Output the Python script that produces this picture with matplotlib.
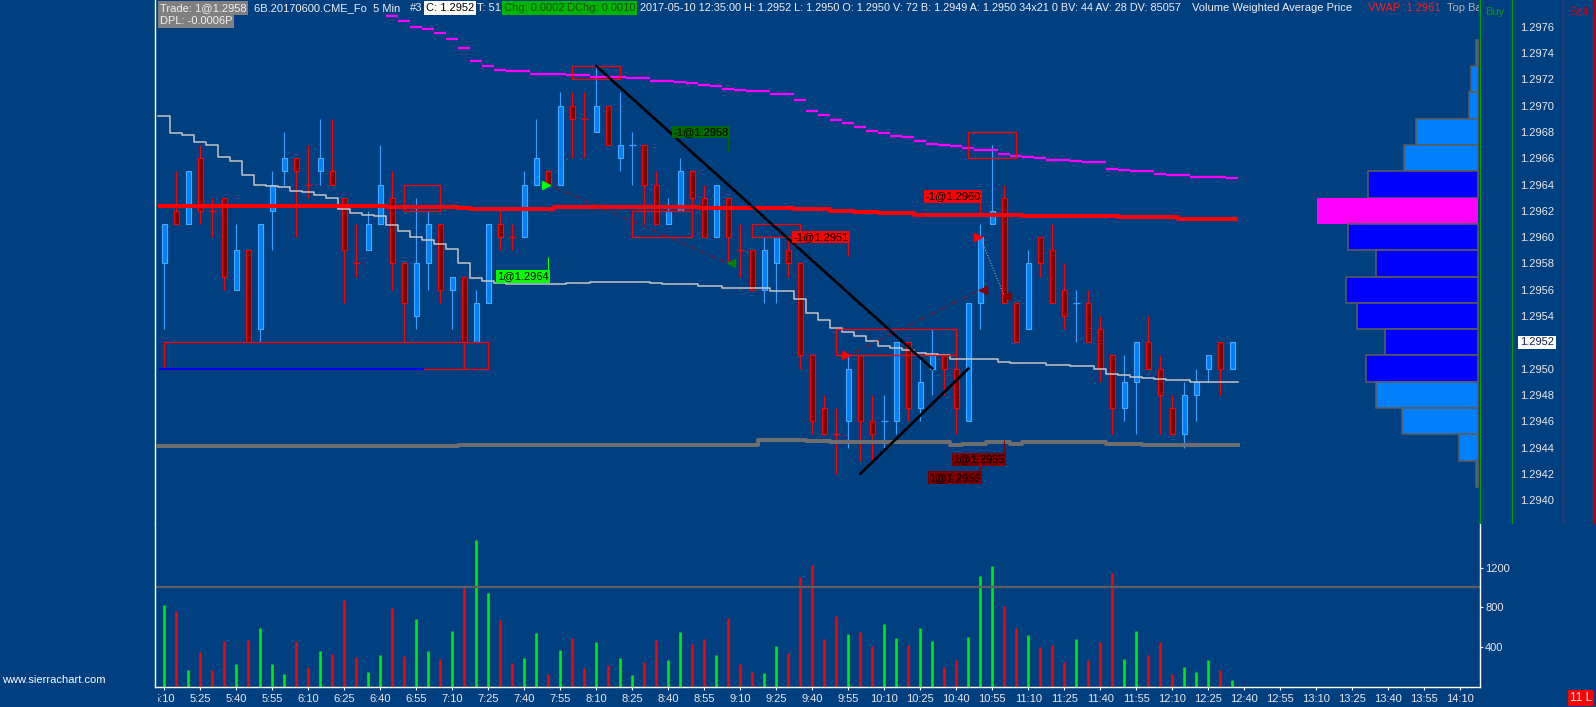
import matplotlib
matplotlib.use('Agg')
import matplotlib.pyplot as plt
from matplotlib.patches import Rectangle
from matplotlib.lines import Line2D
from matplotlib.transforms import Bbox, blended_transform_factory

plt.rcParams['font.family'] = ['Liberation Sans', 'DejaVu Sans']

W, H = 1596, 707
BG = '#014080'

# 5 min bars, 6B 2017-05-10, 5:10 .. 12:35
opens = [1.2958, 1.2962, 1.2961, 1.2966, 1.2962, 1.2963, 1.2956, 1.2959, 1.2953, 1.2962,
         1.2965, 1.2966, 1.2964, 1.2965, 1.2965, 1.2963, 1.2958, 1.2959, 1.2961, 1.2963,
         1.2958, 1.2954, 1.2958, 1.2961, 1.2956, 1.2957, 1.2952, 1.2955, 1.2961, 1.2960,
         1.2960, 1.2964, 1.2965, 1.2964, 1.2970, 1.2969, 1.2968, 1.2970, 1.2966, 1.2967,
         1.2967, 1.2964, 1.2961, 1.2962, 1.2965, 1.2963, 1.2960, 1.2963, 1.2959, 1.2959,
         1.2956, 1.2958, 1.2959, 1.2958, 1.2951, 1.2947, 1.2945, 1.2946, 1.2951, 1.2946,
         1.2946, 1.2946, 1.2952, 1.2947, 1.2950, 1.2951, 1.2950, 1.2946, 1.2955, 1.2961,
         1.2963, 1.2955, 1.2953, 1.2960, 1.2959, 1.2956, 1.2955, 1.2955, 1.2953, 1.2951,
         1.2947, 1.2949, 1.2952, 1.2950, 1.2947, 1.2945, 1.2948, 1.2950, 1.2952, 1.2950]
highs = [1.2961, 1.2965, 1.2965, 1.2967, 1.2963, 1.2963, 1.2961, 1.2959, 1.2961, 1.2965,
         1.2968, 1.2966, 1.2967, 1.2969, 1.2969, 1.2963, 1.2961, 1.2962, 1.2967, 1.2965,
         1.2958, 1.2963, 1.2962, 1.2961, 1.2957, 1.2957, 1.2956, 1.2961, 1.2962, 1.2961,
         1.2965, 1.2969, 1.2965, 1.2971, 1.2971, 1.2971, 1.2973, 1.2970, 1.2971, 1.2968,
         1.2967, 1.2965, 1.2963, 1.2966, 1.2965, 1.2964, 1.2964, 1.2963, 1.2961, 1.2959,
         1.2960, 1.2960, 1.2960, 1.2958, 1.2951, 1.2948, 1.2947, 1.2951, 1.2951, 1.2948,
         1.2948, 1.2952, 1.2952, 1.2951, 1.2953, 1.2951, 1.2953, 1.2955, 1.2961, 1.2967,
         1.2964, 1.2955, 1.2959, 1.2960, 1.2961, 1.2958, 1.2956, 1.2956, 1.2954, 1.2951,
         1.2951, 1.2952, 1.2954, 1.2951, 1.2948, 1.2949, 1.2950, 1.2951, 1.2952, 1.2952]
lows = [1.2953, 1.2961, 1.2961, 1.2961, 1.2960, 1.2956, 1.2956, 1.2952, 1.2952, 1.2959,
        1.2964, 1.2960, 1.2963, 1.2964, 1.2964, 1.2955, 1.2957, 1.2959, 1.2961, 1.2956,
        1.2952, 1.2953, 1.2956, 1.2955, 1.2953, 1.2952, 1.2952, 1.2955, 1.2959, 1.2959,
        1.2960, 1.2964, 1.2964, 1.2964, 1.2966, 1.2966, 1.2968, 1.2967, 1.2965, 1.2964,
        1.2961, 1.2961, 1.2961, 1.2962, 1.2962, 1.2960, 1.2960, 1.2958, 1.2957, 1.2956,
        1.2955, 1.2955, 1.2957, 1.2950, 1.2945, 1.2945, 1.2942, 1.2944, 1.2943, 1.2943,
        1.2944, 1.2945, 1.2946, 1.2946, 1.2948, 1.2948, 1.2945, 1.2946, 1.2953, 1.2961,
        1.2955, 1.2952, 1.2953, 1.2957, 1.2955, 1.2953, 1.2952, 1.2952, 1.2949, 1.2945,
        1.2946, 1.2945, 1.2950, 1.2945, 1.2945, 1.2944, 1.2946, 1.2949, 1.2948, 1.2950]
closes = [1.2961, 1.2961, 1.2965, 1.2962, 1.2962, 1.2957, 1.2959, 1.2952, 1.2961, 1.2964,
          1.2966, 1.2965, 1.2964, 1.2966, 1.2964, 1.2959, 1.2958, 1.2961, 1.2964, 1.2958,
          1.2955, 1.2958, 1.2961, 1.2956, 1.2957, 1.2952, 1.2955, 1.2961, 1.2960, 1.2960,
          1.2964, 1.2966, 1.2964, 1.2970, 1.2969, 1.2969, 1.2970, 1.2967, 1.2967, 1.2967,
          1.2964, 1.2961, 1.2962, 1.2965, 1.2963, 1.2960, 1.2964, 1.2960, 1.2959, 1.2956,
          1.2959, 1.2960, 1.2958, 1.2951, 1.2946, 1.2945, 1.2945, 1.2950, 1.2946, 1.2945,
          1.2946, 1.2952, 1.2947, 1.2949, 1.2951, 1.2950, 1.2947, 1.2955, 1.2960, 1.2962,
          1.2955, 1.2952, 1.2958, 1.2958, 1.2955, 1.2954, 1.2955, 1.2952, 1.2950, 1.2947,
          1.2949, 1.2952, 1.2950, 1.2948, 1.2945, 1.2948, 1.2949, 1.2951, 1.2950, 1.2952]
volumes = [827, 767, 167, 347, 167, 467, 227, 477, 597, 227,
           133, 467, 197, 357, 333, 877, 297, 147, 317, 797,
           307, 687, 357, 277, 567, 990, 1477, 947, 677, 237,
           287, 547, 127, 367, 497, 187, 457, 217, 287, 117,
           247, 477, 267, 557, 437, 487, 317, 697, 227, 147,
           137, 417, 337, 1107, 1227, 487, 717, 537, 557, 407,
           637, 497, 427, 597, 467, 197, 267, 507, 1117, 1217,
           817, 597, 527, 397, 427, 247, 487, 267, 457, 1147,
           277, 567, 317, 457, 127, 197, 147, 267, 167, 72]
# g = up bar (blue candle / green volume), r = down bar
bar_dir = ("grgrrrgrgg" "grrgrrrggr" "rggrgrggrr" "ggrgrrgrgg" "rrggrrgrrr"
           "ggrrrrrgrr" "ggrggrrggg" "rrgrrrgrrr" "ggrrrgggrg")

vwap = [1.29624] * 19 + [1.29623] * 6 + [1.29622] + [1.29621] * 7 + [1.29623] * 12 + \
       [1.29622] * 8 + [1.29621] * 3 + [1.29620] * 2 + [1.29619] * 2 + [1.29618] * 3 + \
       [1.29617] * 9 + [1.29616] * 8 + [1.29615] * 5 + [1.29614] * 5
avg_line = [1.29692, 1.29679, 1.29678, 1.29672, 1.29670, 1.29661, 1.29658, 1.29647, 1.29640, 1.29639,
            1.29638, 1.29635, 1.29634, 1.29632, 1.29630, 1.29621, 1.29618, 1.29617, 1.29616, 1.29609,
            1.29605, 1.29600, 1.29598, 1.29595, 1.29591, 1.29580, 1.29569, 1.29567, 1.29565, 1.29564,
            1.29564, 1.29564, 1.29564, 1.29564, 1.29565, 1.29565, 1.29566, 1.29566, 1.29566, 1.29566,
            1.29566, 1.29565, 1.29564, 1.29564, 1.29564, 1.29563, 1.29563, 1.29561, 1.29561, 1.29561,
            1.29561, 1.29559, 1.29559, 1.29553, 1.29542, 1.29537, 1.29531, 1.29528, 1.29525, 1.29521,
            1.29517, 1.29516, 1.29514, 1.29512, 1.29511, 1.29510, 1.29507, 1.29507, 1.29507, 1.29507,
            1.29505, 1.29504, 1.29504, 1.29504, 1.29503, 1.29503, 1.29502, 1.29502, 1.29500, 1.29496,
            1.29495, 1.29494, 1.29493, 1.29492, 1.29491, 1.29491, 1.29490, 1.29490, 1.29490, 1.29490]
low_band = [1.29441] * 25 + [1.29442] * 25 + [1.29446] * 4 + [1.29445] * 2 + \
           [1.29444] * 10 + [1.29442] + [1.29443] * 2 + [1.29444] * 2 + [1.29443] + \
           [1.29444] * 7 + [1.29443] * 3 + [1.29442] * 8
magenta_first = 19
magenta = [1.29768, 1.29764, 1.29760, 1.29758, 1.29755, 1.29751, 1.29744, 1.29734, 1.29730, 1.29727,
           1.29726, 1.29726, 1.29724, 1.29724, 1.29724, 1.29723, 1.29723, 1.29722, 1.29722, 1.29722,
           1.29721, 1.29721, 1.29719, 1.29719, 1.29718, 1.29717, 1.29716, 1.29715, 1.29713, 1.29712,
           1.29711, 1.29711, 1.29709, 1.29709, 1.29704, 1.29696, 1.29693, 1.29689, 1.29687, 1.29684,
           1.29681, 1.29679, 1.29677, 1.29676, 1.29673, 1.29671, 1.29670, 1.29669, 1.29668, 1.29666,
           1.29666, 1.29663, 1.29662, 1.29661, 1.29660, 1.29659, 1.29659, 1.29658, 1.29657, 1.29657,
           1.29652, 1.29651, 1.29650, 1.29650, 1.29648, 1.29647, 1.29647, 1.29646, 1.29646, 1.29646,
           1.29645]

time_labels = ['5:10', '5:25', '5:40', '5:55', '6:10', '6:25', '6:40', '6:55', '7:10', '7:25',
               '7:40', '7:55', '8:10', '8:25', '8:40', '8:55', '9:10', '9:25', '9:40', '9:55',
               '10:10', '10:25', '10:40', '10:55', '11:10', '11:25', '11:40', '11:55', '12:10',
               '12:25', '12:40', '12:55', '13:10', '13:25', '13:40', '13:55', '14:10']
price_ticks = [1.2940, 1.2942, 1.2944, 1.2946, 1.2948, 1.2950, 1.2952, 1.2954, 1.2956, 1.2958,
               1.2960, 1.2962, 1.2964, 1.2966, 1.2968, 1.2970, 1.2972, 1.2974, 1.2976]
vol_ticks = [400, 800, 1200]

prof_prices = [1.2974, 1.2972, 1.2970, 1.2968, 1.2966, 1.2964, 1.2962, 1.2960, 1.2958,
               1.2956, 1.2954, 1.2952, 1.2950, 1.2948, 1.2946, 1.2944, 1.2942]
prof_vol = [2, 7, 9, 62, 74, 110, 161, 130, 102, 132, 121, 93, 112, 102, 76, 19, 2]
prof_kind = "lllllbpbbbbbbllll"

# drawn boxes: (bar from, bar to, low, high)
boxes = [(0, 25, 1.2950, 1.2952), (25, 27, 1.2950, 1.2952), (20, 23, 1.2962, 1.2964),
         (34, 38, 1.2972, 1.2973), (39, 44, 1.2960, 1.2962), (49, 53, 1.2960, 1.2961),
         (56, 66, 1.2951, 1.2953), (67, 71, 1.2966, 1.2968)]
trend_lines = [((36, 1.2973), (64, 1.2950)), ((58, 1.2942), (67, 1.2950))]
# fills: (text, bar, label price, stick end price, box colour)
fill_labels = [('1@1.2964', 32, 1.29570, 1.29580, '#00ff00'),
               ('-1@1.2958', 47, 1.29680, 1.29670, '#006a00'),
               ('-1@1.2951', 57, 1.29600, 1.29590, '#ff0000'),
               ('-1@1.2960', 68, 1.29631, 1.29622, '#ff0000'),
               ('1@1.2955', 70, 1.29431, 1.29441, '#7a0000'),
               ('1@1.2956', 68, 1.29417, 1.29427, '#7a0000')]
# trades: (entry bar, entry price, exit bar, exit price, entry colour, exit colour, link colour)
trades = [(32, 1.2964, 47, 1.2958, '#00ff00', '#008000', '#d00000'),
          (57, 1.2951, 68, 1.2956, '#ff0000', '#8b0000', '#d00000'),
          (68, 1.2960, 70, 1.29555, '#ff0000', '#8b0000', '#8fa8c8')]

PX = 0.72  # points per pixel at 100 dpi
n = len(opens)

fig = plt.figure(figsize=(W / 100, H / 100), dpi=100, facecolor=BG)
L, R = 155, 1480
ax = fig.add_axes([L / W, 1 - 523 / H, (R - L) / W, 523 / H])
axv = fig.add_axes([L / W, 1 - 687 / H, (R - L) / W, (687 - 523) / H])
axp = fig.add_axes([1230 / W, 1 - 523 / H, 250 / W, 523 / H])

xlim = (-0.775, 109.64)
ylim = (1.293826, 1.297803)
for a in (ax, axv):
    a.set_facecolor(BG)
    a.set_xlim(*xlim)
ax.set_ylim(*ylim)
axv.set_ylim(0, 1648)

# candles
for i in range(n):
    o, h, l, c = opens[i], highs[i], lows[i], closes[i]
    up = bar_dir[i] == 'g'
    wick = '#3d9eff' if up else '#ff0000'
    ax.vlines(i, l, h, color=wick, lw=1.2 * PX, zorder=3)
    if abs(c - o) < 1e-9:
        ax.hlines(o, i - 0.27, i + 0.27, color=wick, lw=1.3 * PX, zorder=4)
    else:
        ax.add_patch(Rectangle((i - 0.21, min(o, c)), 0.42, abs(c - o),
                               fc='#0080ff' if up else '#800000',
                               ec='#4aa8ff' if up else '#ff0000', lw=1.1 * PX, zorder=4))

edges = [i - 0.5 for i in range(n + 1)]
ax.plot(edges, avg_line + avg_line[-1:], drawstyle='steps-post', color='#c8c8c8',
        lw=1.5 * PX, zorder=5)
ax.plot(edges, low_band + low_band[-1:], drawstyle='steps-post', color='#6e6e6e',
        lw=4 * PX, zorder=5)
ax.plot(edges, vwap + vwap[-1:], drawstyle='steps-post', color='#ff0000',
        lw=4 * PX, zorder=6, solid_capstyle='butt')
mx = list(range(magenta_first, magenta_first + len(magenta)))
ax.hlines(magenta, [x - 0.5 for x in mx], [x + 0.5 for x in mx], color='#ff00ff',
          lw=2.3 * PX, zorder=6)

for b0, b1, p0, p1 in boxes:
    ax.add_patch(Rectangle((b0, p0), b1 - b0, p1 - p0, fill=False, ec='#ff0000',
                           lw=1.3 * PX, zorder=6))
ax.hlines(1.2950, -0.42, 21.6, color='#0000ff', lw=2.2 * PX, zorder=7)

for (x0, y0), (x1, y1) in trend_lines:
    ax.plot([x0, x1], [y0, y1], color='black', lw=2.6 * PX, zorder=9)

for eb, ep, xb, xp, ec_, xc, lc in trades:
    ax.plot([eb, xb], [ep, xp], color=lc, lw=1.1 * PX, ls=(0, (1, 1.5)), zorder=8)
    ax.plot(eb - 0.2, ep, marker='>', ms=6, color=ec_, mec=ec_, zorder=9)
    ax.plot(xb + 0.2, xp, marker='<', ms=6, color=xc, mec=xc, zorder=9)

for txt, b, p, stick, col in fill_labels:
    ax.text(b + 0.03, p, txt, ha='right', va='center', fontsize=8, color='black',
            bbox=dict(boxstyle='square,pad=0.12', fc=col, ec='none'), zorder=10)
    off = 0.000045 if stick > p else -0.000045
    ax.vlines(b, p + off, stick + off, color=col, lw=1.1 * PX, zorder=10)

# volume profile
prof_col = {'l': '#0080ff', 'b': '#0000ff', 'p': '#ff00ff'}
axp.set_xlim(250, 0)
axp.set_ylim(*ylim)
axp.axis('off')
axp.patch.set_visible(False)
for p, v, k in zip(prof_prices, prof_vol, prof_kind):
    axp.barh(p, v, height=0.0002, left=1.7, color=prof_col[k],
             edgecolor='none' if k == 'p' else '#5c5c5c', lw=1.6 * PX)

# volume panel
vcols = ['#00ee00' if d == 'g' else '#ff0000' for d in bar_dir]
axv.vlines(range(n), 0, volumes, colors=vcols, lw=2.6 * PX)
axv.axhline(1000, color='#5f5f5f', lw=2.2 * PX)

# spines / ticks
for s in ('top', 'bottom'):
    ax.spines[s].set_visible(False)
ax.spines['left'].set_color('white')
ax.spines['right'].set_color('#00a000')
ax.spines['left'].set_linewidth(1.4 * PX)
ax.spines['right'].set_linewidth(1.2 * PX)
ax.set_xticks([])
ax.yaxis.tick_right()
ax.set_yticks(price_ticks)
ax.set_yticklabels(['%.4f' % p for p in price_ticks])
ax.tick_params(axis='y', length=0, pad=40 * PX, labelcolor='#e8e8e8', labelsize=8)

axv.spines['top'].set_visible(False)
for s in ('left', 'bottom', 'right'):
    axv.spines[s].set_color('white')
    axv.spines[s].set_linewidth(1.4 * PX)
axv.yaxis.tick_right()
axv.set_yticks(vol_ticks)
axv.set_yticklabels([str(v) for v in vol_ticks])
axv.tick_params(axis='y', colors='#e8e8e8', length=3 * PX, pad=2 * PX, labelsize=8)
axv.set_xticks(range(0, 3 * len(time_labels), 3))
axv.tick_params(axis='x', length=3 * PX, color='white', labelbottom=False)

clip_plot = Bbox.from_extents(L, 0, R - 1, H)
clip_time = Bbox.from_extents(158, 0, R - 1, H)
tx = blended_transform_factory(axv.transData, fig.transFigure)
for k, lab in enumerate(time_labels):
    t = fig.text(3 * k, 1 - 699 / H, lab, transform=tx, ha='center', va='center',
                 color='#e8e8e8', fontsize=8)
    t.set_clip_on(True)
    t.set_clip_box(clip_time)

# current price marker
ty = blended_transform_factory(fig.transFigure, ax.transData)
ax.text(1520 / W, closes[-1], '%.4f' % closes[-1], transform=ty, ha='left', va='center',
        fontsize=8, color='#10204a', zorder=11,
        bbox=dict(boxstyle='square,pad=0.15', fc='white', ec='none'))

# right side columns
for x, col in ((1480, '#00a000'), (1511.7, '#00a000'), (1563.3, '#cc0000'), (1594.3, '#cc0000')):
    fig.add_artist(Line2D([x / W, x / W], [1, 1 - 523 / H], color=col, lw=1.2 * PX,
                          transform=fig.transFigure))
fig.text(1485 / W, 1 - 12 / H, 'Buy', color='#00a000', fontsize=8, va='center')
fig.text(1569 / W, 1 - 12 / H, 'Sell', color='#e00000', fontsize=8, va='center')


def head(x, y, s, color='#f0f0f0', bg=None, clip=False, size=8):
    kw = {}
    if bg:
        kw['bbox'] = dict(boxstyle='square,pad=0.15', fc=bg, ec='none')
    t = fig.text(x / W, 1 - y / H, s, color=color, fontsize=size, va='center', ha='left', **kw)
    if clip:
        t.set_clip_on(True)
        t.set_clip_box(clip_plot)
    return t


head(160, 8, 'Trade: 1@1.2958', bg='#808080')
head(254, 8, '6B.20170600.CME_Fo  5 Min')
head(410, 8, '#3')
head(426, 8, 'C: 1.2952', color='black', bg='white')
head(477, 8, 'T: 51')
head(504, 8, 'Chg: 0.0002', color='#145514', bg='#00b400')
head(567, 8, 'DChg: 0.0010', color='#145514', bg='#00b400')
head(640, 8, '2017-05-10 12:35:00 H: 1.2952 L: 1.2950 O: 1.2950 V: 72 B: 1.2949 '
             'A: 1.2950 34x21 0 BV: 44 AV: 28 DV: 85057', size=7.8)
head(1192, 8, 'Volume Weighted Average Price')
head(1368, 8, 'VWAP: 1.2961', color='#ff1a1a')
head(1447, 8, 'Top Bar', color='#b4b4b4', clip=True)
head(160, 21, 'DPL: -0.0006P', bg='#808080')

fig.text(2 / W, 1 - 680 / H, 'www.sierrachart.com', color='white', fontsize=8, va='center')
fig.text(1581 / W, 1 - 698 / H, '11 L', color='white', fontsize=8.5, va='center', ha='center',
         bbox=dict(boxstyle='square,pad=0.2', fc='#ff0000', ec='none'))

fig.savefig('out.png', dpi=100, facecolor=BG)
